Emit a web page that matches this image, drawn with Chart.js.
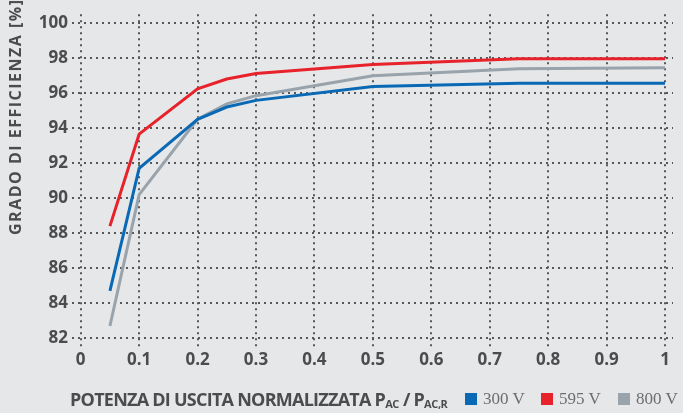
<!DOCTYPE html>
<html>
<head>
<meta charset="utf-8">
<script src="https://cdn.jsdelivr.net/npm/chart.js@4"></script>
<style>
  html, body { margin: 0; padding: 0; background: #e6e7e9; }
  #wrap { position: relative; width: 683px; height: 413px; overflow: hidden; }
  #chart { position: absolute; left: 0; top: 0; }
  .ytitle {
    position: absolute; left: 5px; top: 235px;
    transform-origin: left top; transform: rotate(-90deg);
    font: bold 16px "Open Sans", sans-serif; letter-spacing: 1.5px;
    line-height: 20px; color: #4b4c4e; white-space: nowrap;
  }
  .xtitle {
    position: absolute; left: 70px; top: 387px;
    font: bold 18px "Open Sans", sans-serif; letter-spacing: -0.75px;
    line-height: 24px; color: #4b4c4e; white-space: nowrap;
  }
  .xtitle sub { font-size: 11px; vertical-align: -2px; letter-spacing: -0.4px; }
  .legend {
    position: absolute; top: 389px; line-height: 22px;
    font: 17px "Liberation Serif", serif; color: #6c6d70; white-space: nowrap;
  }
  .legend i { display: inline-block; width: 12px; height: 12px; margin-right: 6px; vertical-align: -1px; }
</style>
</head>
<body>
<div id="wrap">
  <canvas id="chart" width="683" height="413"></canvas>
  <div class="ytitle">GRADO DI EFFICIENZA [%]</div>
  <div class="xtitle">POTENZA DI USCITA NORMALIZZATA P<sub>AC</sub> / P<sub>AC,R</sub></div>
  <div class="legend" style="left:465px"><i style="background:#0a69b5"></i>300 V</div>
  <div class="legend" style="left:541px"><i style="background:#e7222b"></i>595 V</div>
  <div class="legend" style="left:618px"><i style="background:#98a3ab"></i>800 V</div>
</div>
<script>
// potenza normalizzata (asse x)
const potenza = [0.05, 0.1, 0.2, 0.25, 0.3, 0.5, 0.75, 1];

// grado di efficienza [%] per tensione
const eff300 = [84.7, 91.7, 94.5, 95.2, 95.58, 96.37, 96.56, 96.56];
const eff595 = [88.4, 93.65, 96.24, 96.8, 97.12, 97.63, 97.96, 97.96];
const eff800 = [82.7, 90.2, 94.5, 95.38, 95.85, 96.98, 97.39, 97.44];

// tick
const xTicks = [0, 0.1, 0.2, 0.3, 0.4, 0.5, 0.6, 0.7, 0.8, 0.9, 1];
const yTicks = [82, 84, 86, 88, 90, 92, 94, 96, 98, 100];

const series = [
  { label: '300 V', data: eff300, color: '#0a69b5' },
  { label: '595 V', data: eff595, color: '#e7222b' },
  { label: '800 V', data: eff800, color: '#98a3ab' }
];

const tickFont = { family: 'Open Sans', weight: 'bold', size: 17 };
const textColor = '#4b4c4e';
const gridColor = '#55575a';

new Chart(document.getElementById('chart'), {
  type: 'line',
  data: {
    datasets: series.map(s => ({
      label: s.label,
      data: potenza.map((x, i) => ({ x: x, y: s.data[i] })),
      borderColor: s.color,
      backgroundColor: s.color,
      borderWidth: 3,
      pointRadius: 0,
      tension: 0,
      fill: false
    }))
  },
  options: {
    responsive: false,
    animation: false,
    devicePixelRatio: 1,
    layout: { padding: { top: 5, right: 10, left: 0, bottom: 0 } },
    plugins: { legend: { display: false }, tooltip: { enabled: false } },
    scales: {
      x: {
        type: 'linear',
        min: -0.0149,
        max: 1.0137,
        afterFit: scale => { scale.height = 66.3; },
        afterBuildTicks: scale => { scale.ticks = xTicks.map(v => ({ value: v })); },
        ticks: {
          font: tickFont, color: textColor, padding: 3, maxRotation: 0,
          callback: v => String(v)
        },
        grid: { color: gridColor, lineWidth: 2, drawTicks: false },
        border: { display: false, dash: [2, 4] }
      },
      y: {
        type: 'linear',
        min: 81.517,
        max: 100.5,
        afterFit: scale => { scale.width = 72; },
        afterBuildTicks: scale => { scale.ticks = yTicks.map(v => ({ value: v })); },
        ticks: { font: tickFont, color: textColor, padding: 4 },
        grid: { color: gridColor, lineWidth: 2, drawTicks: false },
        border: { display: false, dash: [2, 4] }
      }
    }
  }
});
</script>
</body>
</html>
